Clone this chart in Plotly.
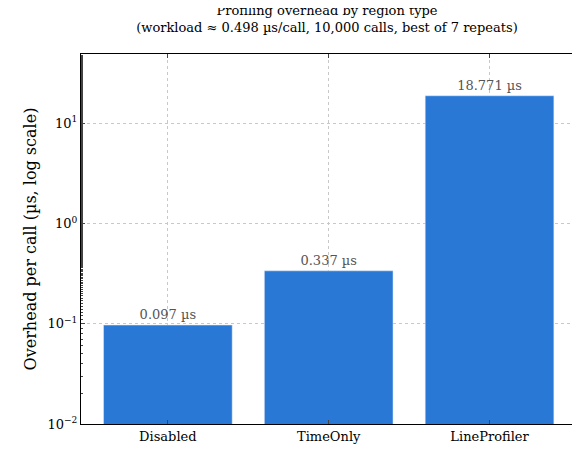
import plotly.graph_objects as go

categories = ["Disabled", "TimeOnly", "LineProfiler"]
overhead_us = [0.097, 0.337, 18.771]
tick_vals = [0.01, 0.1, 1, 10]
tick_text = ["10<sup>−2</sup>", "10<sup>−1</sup>", "10<sup>0</sup>", "10<sup>1</sup>"]

font = "DejaVu Serif"
fig = go.Figure(go.Bar(
    x=categories, y=overhead_us, width=0.8, marker_color="#2a78d6",
    text=[f"{v:.3f} µs" for v in overhead_us], textposition="outside",
    textfont=dict(family=font, size=13, color="#555555"), cliponaxis=False,
))
fig.update_layout(
    width=580, height=452, plot_bgcolor="white", paper_bgcolor="white",
    margin=dict(l=73, r=10, t=46, b=36),
    font=dict(family=font, size=13, color="black"),
    title=dict(text="Profiling overhead by region type<br>(workload ≈ 0.498 µs/call, 10,000 calls, best of 7 repeats)",
               x=0.55, xanchor="center", y=0.985, yanchor="top", font=dict(size=13)),
    showlegend=False,
)
fig.update_xaxes(range=[-0.54, 2.55], showline=True, linecolor="black", mirror="ticks",
                 ticks="inside", ticklen=4, showgrid=True, gridcolor="#c8c8c8", griddash="dot")
fig.update_yaxes(type="log", range=[-2.0, 1.69], tickvals=tick_vals, ticktext=tick_text,
                 showline=True, linecolor="black", mirror="ticks", ticks="inside", ticklen=4,
                 showgrid=True, gridcolor="#c8c8c8", griddash="dot",
                 minor=dict(ticks="inside", ticklen=2, showgrid=False),
                 title=dict(text="Overhead per call (µs, log scale)", standoff=6))
fig.write_html("out.html")
